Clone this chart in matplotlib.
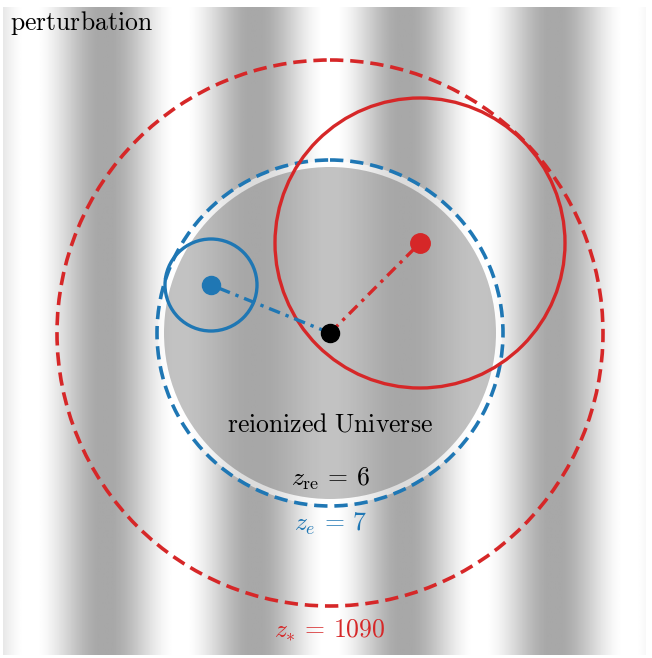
import numpy as np
import matplotlib.pyplot as plt
from matplotlib.patches import Circle

plt.rcParams['mathtext.fontset'] = 'cm'

# Konfiguracja (piksele obrazu)
W, H = 652, 658
BG_EXTENT = [3, 646, 655, 7]          # left, right, bottom, top
STRIPE_PERIOD = 150
STRIPE_PEAK = 330
STRIPE_DARK = 0.66

CENTER = (330, 333)
R_REION = 166        # z_re = 6
R_E = 173            # z_e = 7
R_STAR = 273         # z_* = 1090

BLUE_PT = (211, 285)
BLUE_R = 46
RED_PT = (420, 243)
RED_R = 145

BLUE = '#1f77b4'
RED = '#d62728'

labels = {
    'pert': r'$\mathrm{perturbation}$',
    'reion': r'$\mathrm{reionized\ Universe}$',
    'zre': r'$z_{\mathrm{re}}\,=\,6$',
    'ze': r'$z_e\,=\,7$',
    'zstar': r'$z_{*}\,=\,1090$',
}

fig = plt.figure(figsize=(W / 100, H / 100), dpi=100)
ax = fig.add_axes([0, 0, 1, 1])
ax.set_xlim(0, W)
ax.set_ylim(H, 0)
ax.axis('off')

# tlo: pionowe pasy perturbacji
xs = np.linspace(BG_EXTENT[0], BG_EXTENT[1], 700)
wave = np.clip(0.5 + 0.53 * np.cos(2 * np.pi * (xs - STRIPE_PEAK) / STRIPE_PERIOD), 0, 1)
shade = STRIPE_DARK + (1 - STRIPE_DARK) * wave
ax.imshow(np.tile(shade, (2, 1)), cmap='gray', vmin=0, vmax=1, aspect='auto',
          extent=BG_EXTENT, interpolation='bilinear', zorder=0)

# zjonizowany obszar
ax.add_patch(Circle(CENTER, R_E - 1, facecolor='white', edgecolor='none', alpha=0.6, zorder=1))
ax.add_patch(Circle(CENTER, R_REION, facecolor='black', edgecolor='none', alpha=0.24, zorder=2))

# okregi
ax.add_patch(Circle(CENTER, R_STAR, fill=False, edgecolor=RED, lw=2.6, ls=(0, (3.7, 1.9)), zorder=3))
ax.add_patch(Circle(CENTER, R_E, fill=False, edgecolor=BLUE, lw=2.6, ls=(0, (3.7, 1.9)), zorder=3))
ax.add_patch(Circle(BLUE_PT, BLUE_R, fill=False, edgecolor=BLUE, lw=2.4, zorder=4))
ax.add_patch(Circle(RED_PT, RED_R, fill=False, edgecolor=RED, lw=2.4, zorder=4))

# linie kreska-kropka
ax.plot([CENTER[0], BLUE_PT[0]], [CENTER[1], BLUE_PT[1]], color=BLUE, lw=2.4,
        ls=(0, (3.5, 1.8, 1, 1.8)), zorder=5)
ax.plot([CENTER[0], RED_PT[0]], [CENTER[1], RED_PT[1]], color=RED, lw=2.4,
        ls=(0, (3.5, 1.8, 1, 1.8)), zorder=5)

# punkty
ax.plot(*CENTER, 'o', color='black', ms=13, zorder=6)
ax.plot(*BLUE_PT, 'o', color=BLUE, ms=13, zorder=6)
ax.plot(*RED_PT, 'o', color=RED, ms=14, zorder=6)

# podpisy
ax.text(10, 23, labels['pert'], fontsize=18.5, ha='left', va='center', zorder=7)
ax.text(330, 424, labels['reion'], fontsize=18.5, ha='center', va='center', zorder=7)
ax.text(330, 479, labels['zre'], fontsize=18.5, ha='center', va='center', zorder=7)
ax.text(330, 524, labels['ze'], fontsize=18.5, ha='center', va='center', color=BLUE, zorder=7)
ax.text(330, 630, labels['zstar'], fontsize=18.5, ha='center', va='center', color=RED, zorder=7)

fig.savefig('out.png', dpi=100, facecolor='white')
